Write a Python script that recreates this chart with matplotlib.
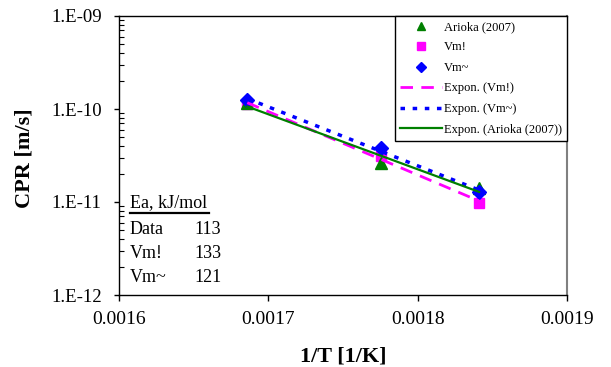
import numpy as np
import matplotlib
matplotlib.use("Agg")
import matplotlib.pyplot as plt
from matplotlib.ticker import LogLocator, FixedLocator

plt.rcParams["font.family"] = ["Liberation Serif", "DejaVu Serif"]

# Data
inv_T = [0.0016859, 0.0017757, 0.0018411]
cpr_arioka = [1.15e-10, 2.6e-11, 1.43e-11]
cpr_vm_bang = [1.13e-10, 3.1e-11, 9.8e-12]
cpr_vm_tilde = [1.25e-10, 3.8e-11, 1.28e-11]

ea_names = ["Data", "Vm!", "Vm~"]
ea_values = [113, 133, 121]

x_ticks = [0.0016, 0.0017, 0.0018, 0.0019]
x_tick_labels = ["0.0016", "0.0017", "0.0018", "0.0019"]
y_ticks = [1e-12, 1e-11, 1e-10, 1e-9]
y_tick_labels = ["1.E-12", "1.E-11", "1.E-10", "1.E-09"]


def expon_fit(x, y):
    """Excel-style exponential trendline over the data range."""
    x = np.asarray(x)
    b, a = np.polyfit(x, np.log(y), 1)
    xs = np.array([x.min(), x.max()])
    return xs, np.exp(a + b * xs)


fig = plt.figure(figsize=(6.11, 3.67), dpi=100)
ax = fig.add_axes([119 / 611, 1 - 295 / 367, 448 / 611, 279 / 367])

ax.plot(inv_T, cpr_vm_bang, "s", color="#FF00FF", ms=7.5, mec="#FF00FF", ls="none", label="Vm!", zorder=3)
ax.plot(inv_T, cpr_arioka, "^", color="#008000", ms=9, mec="#008000", ls="none", label="Arioka (2007)", zorder=3)
ax.plot(inv_T, cpr_vm_tilde, "D", color="#0000FF", ms=7, mec="#0000FF", ls="none", label="Vm~", zorder=3.5)

xs, ys = expon_fit(inv_T, cpr_vm_bang)
ax.plot(xs, ys, color="#FF00FF", lw=2, dashes=(4.5, 3), label="Expon. (Vm!)", zorder=4)
xs, ys = expon_fit(inv_T, cpr_vm_tilde)
ax.plot(xs, ys, color="#0000FF", lw=2.5, dashes=(1.3, 2.2), label="Expon. (Vm~)", zorder=4)
xs, ys = expon_fit(inv_T, cpr_arioka)
ax.plot(xs, ys, color="#008000", lw=1.6, label="Expon. (Arioka (2007))", zorder=4.5)

ax.set_yscale("log")
ax.set_xlim(0.0016, 0.0019)
ax.set_ylim(1e-12, 1e-9)
ax.xaxis.set_major_locator(FixedLocator(x_ticks))
ax.set_xticklabels(x_tick_labels)
ax.yaxis.set_major_locator(FixedLocator(y_ticks))
ax.set_yticklabels(y_tick_labels)
ax.yaxis.set_minor_locator(LogLocator(base=10, subs=np.arange(2, 10)))
ax.yaxis.set_minor_formatter(plt.NullFormatter())
ax.tick_params(axis="x", which="major", direction="out", length=4.5, width=1,
               labelsize=14, pad=7, color="black")
ax.tick_params(axis="y", which="major", direction="out", length=3.5, width=1,
               labelsize=13.5, pad=9, color="black")
ax.tick_params(axis="y", which="minor", direction="in", length=3.5, width=0.8)
ax.tick_params(axis="x", which="minor", bottom=False)

for side in ["left", "bottom", "top"]:
    ax.spines[side].set_linewidth(1.0)
    ax.spines[side].set_color("black")
ax.spines["right"].set_color("#808080")
ax.spines["right"].set_linewidth(1.5)

ax.set_xlabel("1/T [1/K]", fontsize=16, fontweight="bold")
ax.set_ylabel("CPR [m/s]", fontsize=16, fontweight="bold")
ax.xaxis.set_label_coords((343 - 119) / 448, (295 - 357) / 279)
ax.yaxis.set_label_coords((25 - 119) / 448, (295 - 158) / 279)
ax.xaxis.label.set_va("center")
ax.yaxis.label.set_va("center")

# Legend in Excel order
handles, labels = ax.get_legend_handles_labels()
order = ["Arioka (2007)", "Vm!", "Vm~", "Expon. (Vm!)", "Expon. (Vm~)", "Expon. (Arioka (2007))"]
hmap = dict(zip(labels, handles))
leg = ax.legend([hmap[k] for k in order], order, loc="upper right",
                bbox_to_anchor=(1.0, 1.0), fontsize=9, frameon=True, fancybox=False,
                edgecolor="black", framealpha=1, borderaxespad=0, handlelength=3.4,
                handletextpad=0.15, labelspacing=0.68, borderpad=0.4, markerscale=0.7)
leg.get_frame().set_linewidth(1.0)

# Activation energy annotation
x0 = (130 - 119) / 448
xv = (194 - 119) / 448
ax.text(x0, (295 - 203) / 279, "Ea, kJ/mol", transform=ax.transAxes,
        fontsize=13, va="center", ha="left")
ax.plot([x0, (209 - 119) / 448], [(295 - 213) / 279] * 2, transform=ax.transAxes,
        color="black", lw=1.6, clip_on=False)
for i, (name, val) in enumerate(zip(ea_names, ea_values)):
    yy = (295 - (230 + 23.5 * i)) / 279
    ax.text(x0, yy, name, transform=ax.transAxes, fontsize=13, va="center", ha="left")
    ax.text(xv, yy, str(val), transform=ax.transAxes, fontsize=13, va="center", ha="left")

fig.savefig("out.png", dpi=100)
